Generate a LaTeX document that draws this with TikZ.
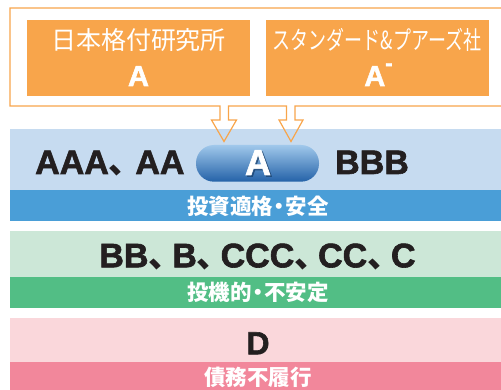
\documentclass[tikz,border=0pt]{standalone}
\usepackage{fontspec}
\setmainfont{Liberation Sans}
\newfontface\heavy[FakeBold=1.8]{Liberation Sans Bold}
\newfontfamily\cjk{Noto Sans CJK JP}
\usepackage{xcolor}
\usepackage{tikz}
\usetikzlibrary{calc}

\definecolor{agorange}{HTML}{F8A54B}
\definecolor{bluelight}{HTML}{C6DBF0}
\definecolor{bluedark}{HTML}{4A9ED7}
\definecolor{greenlight}{HTML}{CCE7D7}
\definecolor{greendark}{HTML}{52BE85}
\definecolor{pinklight}{HTML}{FAD7DB}
\definecolor{pinkdark}{HTML}{F2879B}
\definecolor{inkblack}{HTML}{231F20}
\definecolor{pilltop}{RGB}{160,200,235}
\definecolor{pillmid}{RGB}{88,148,206}
\definecolor{pillbot}{RGB}{36,98,168}

% ideographic comma, set tight
\newcommand\jcomma[1][-0.3em]{{\cjk\bfseries 、}\kern#1}
% narrow middle dot
\newcommand\jdot{\kern-0.22em・\kern-0.22em}

\tikzset{
  gradetext/.style={text=inkblack, font=\heavy\fontsize{34}{34}\selectfont, inner sep=0pt, anchor=base},
  striptext/.style={text=white, font=\cjk\bfseries\fontsize{21.5}{21.5}\selectfont, inner sep=0pt},
  agencytext/.style={text=white, font=\cjk\fontsize{25}{25}\selectfont, inner sep=0pt},
  agencygrade/.style={text=white, font=\heavy\fontsize{29}{29}\selectfont, inner sep=0pt, anchor=base},
}

\begin{document}
\begin{tikzpicture}[x=1pt,y=-1pt]
\useasboundingbox (0,0) rectangle (501,390);

% Rating bands
\fill[bluelight] (10,129) rectangle (501,190);
\fill[bluedark] (10,190) rectangle (501,221);
\fill[greenlight] (10,231) rectangle (501,277);
\fill[greendark] (10,277) rectangle (501,308);
\fill[pinklight] (10,318) rectangle (501,362);
\fill[pinkdark] (10,362) rectangle (501,390);

% Agency boxes
\fill[agorange] (27,20) rectangle (250,96);
\fill[agorange] (266,20) rectangle (489,96);
\node[agencytext] (jcrname) at (138.5,40) {日本格付研究所};
\node[agencygrade] (jcrgrade) at (138.5,86) {A};
\node[agencytext] (spname) at (377,40) {\scalebox{0.72}[1]{スタンダード\&プアーズ社}};
\node[agencygrade] (spgrade) at (378.5,86) {A\raisebox{15.5pt}{\fontsize{22}{22}\selectfont -}};

% Frame with hollow arrows
\draw[agorange, line width=1.2pt, line join=miter]
  (505,8) -- (10,8) -- (10,106) -- (220,106) -- (220,120) -- (211.5,120) -- (224,141.5)
  -- (236.5,120) -- (228.5,120) -- (228.5,106) -- (286.5,106) -- (286.5,120) -- (279,120)
  -- (291,141.5) -- (303,120) -- (295,120) -- (295,106) -- (505,106);

% Investment grade
\shade[top color=pilltop, middle color=pillmid, bottom color=pillbot, rounded corners=18pt]
  (196,145) rectangle (319,181.7);
\node[gradetext, anchor=base west] (aaa) at (35,174) {AAA\jcomma[-0.22em]AA};
\node[gradetext, anchor=base west] (bbb) at (335,174) {BBB};
\node[gradetext, text=pillbot!60!black, opacity=0.6, font=\heavy\fontsize{36}{36}\selectfont] at (259.5,176.5) {A};
\node[gradetext, text=white, font=\heavy\fontsize{36}{36}\selectfont] (jcrpill) at (258,175) {A};
\node[striptext] (invest) at (258,206) {投資適格\jdot 安全};

% Speculative grade
\node[gradetext] (spec) at (257.5,267.3) {BB\jcomma B\jcomma CCC\jcomma CC\jcomma C};
\node[striptext] (specstrip) at (258,292.5) {投機的\jdot 不安定};

% Default
\node[gradetext, font=\heavy\fontsize{32}{32}\selectfont] (dflt) at (258,354.3) {D};
\node[striptext] (dfltstrip) at (258,377) {債務不履行};
\end{tikzpicture}
\end{document}
